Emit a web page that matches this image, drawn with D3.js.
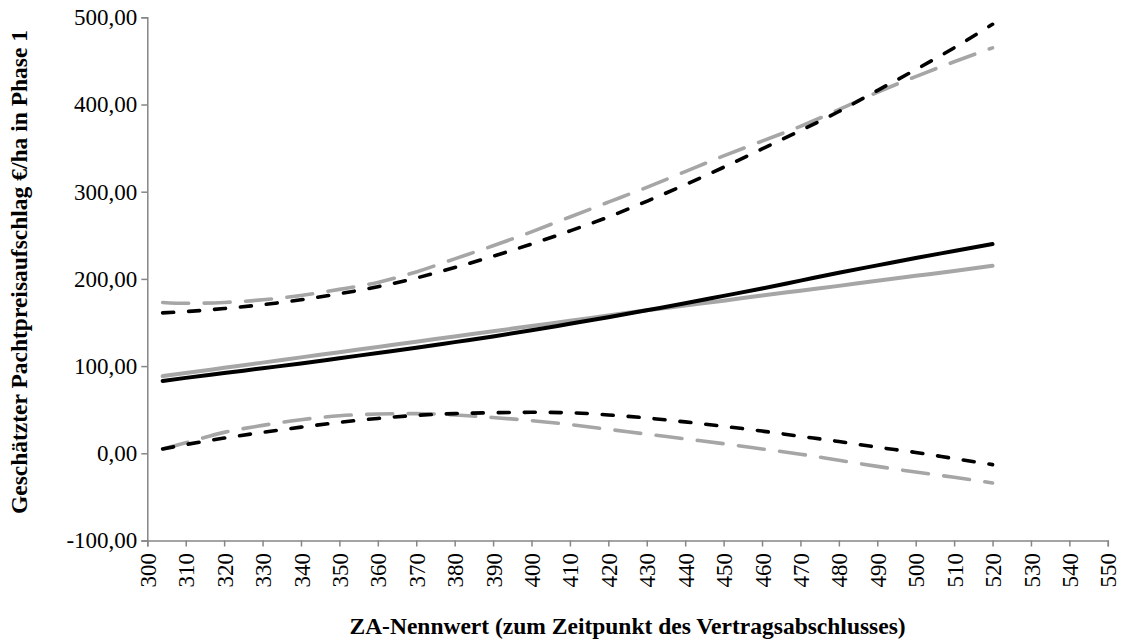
<!DOCTYPE html>
<html>
<head>
<meta charset="utf-8">
<script src="https://cdn.jsdelivr.net/npm/d3@7"></script>
<style>
  html, body { margin: 0; padding: 0; background: #fff; }
  svg { display: block; }
</style>
</head>
<body>
<svg id="chart" width="1126" height="643"></svg>
<script>
// ---- Data ----
const xValues = [304, 310, 320, 330, 340, 350, 360, 370, 380, 390, 400, 410, 420, 430, 440, 450, 460, 470, 480, 490, 500, 510, 520];

const estimateBlack = [83, 86.5, 92, 97.5, 103, 109, 115, 121, 127.5, 134, 141, 148.5, 156, 164, 172, 180.5, 189, 198, 207, 215.5, 224, 232, 240];
const estimateGray  = [88.5, 92, 98, 104, 110, 116, 122, 128, 134, 140, 146, 152, 158, 164, 169.5, 175, 181, 186.5, 192, 198, 203.5, 209, 215];

const upperBlack = [161, 162.5, 166, 170.5, 176, 183, 191, 201, 213, 226, 240, 255, 271, 289, 308, 328, 349, 370, 392, 416, 440, 465, 492];
const upperGray  = [173, 172, 173, 176, 181, 188, 196, 208, 223, 238, 254, 271, 288, 305, 323, 341, 358, 375, 394, 414, 432, 449, 465];

const lowerBlack = [5, 10, 17.5, 24, 30, 35.5, 40, 43.5, 45.5, 46.5, 47, 46.5, 44, 40.5, 36, 31, 25.5, 19.5, 13.5, 7, 1, -6, -13];
const lowerGray  = [5, 12, 24, 32, 38.5, 43, 45, 45.5, 44, 41, 37.5, 33, 27.5, 22, 16.5, 11, 5, -1, -8, -15, -21.5, -27.5, -34];

const xTicks = d3.range(300, 551, 10);
const yTicks = [-100, 0, 100, 200, 300, 400, 500];

const xTitle = "ZA-Nennwert (zum Zeitpunkt des Vertragsabschlusses)";
const yTitle = "Geschätzter Pachtpreisaufschlag €/ha in Phase 1";

// ---- Layout ----
const svg = d3.select("#chart");
const mLeft = 147.3, mRight = 1107.8, mTop = 17.3, mBottom = 540.5;

const x = d3.scaleLinear().domain([300, 550]).range([mLeft, mRight]);
const y = d3.scaleLinear().domain([-100, 500]).range([mBottom, mTop]);

const axisColor = "#868686";
const fontFamily = "'Liberation Serif', 'Times New Roman', serif";
const tickFont = "23px";
const titleFont = "23.5px";

// Y axis
const yAxis = svg.append("g")
  .attr("transform", `translate(${mLeft},0)`)
  .call(d3.axisLeft(y).tickValues(yTicks).tickSize(6).tickPadding(4)
    .tickFormat(d => d.toFixed(2).replace(".", ",")));
yAxis.select(".domain").attr("stroke", axisColor).attr("stroke-width", 1.5);
yAxis.selectAll(".tick line").attr("stroke", axisColor).attr("stroke-width", 1.5);
yAxis.selectAll(".tick text")
  .attr("fill", "#000").style("font-family", fontFamily).style("font-size", tickFont);

// X axis
const xAxis = svg.append("g")
  .attr("transform", `translate(0,${mBottom})`)
  .call(d3.axisBottom(x).tickValues(xTicks).tickSize(6).tickFormat(d => String(d)));
xAxis.select(".domain").attr("stroke", axisColor).attr("stroke-width", 1.5);
xAxis.selectAll(".tick line").attr("stroke", axisColor).attr("stroke-width", 1.5);
xAxis.selectAll(".tick text")
  .attr("fill", "#000").style("font-family", fontFamily).style("font-size", tickFont)
  .attr("transform", "rotate(-90)")
  .attr("text-anchor", "end")
  .attr("x", -12.5)
  .attr("y", 0)
  .attr("dy", "0.35em");

// ---- Lines ----
const line = d3.line().x(d => x(d[0])).y(d => y(d[1])).curve(d3.curveMonotoneX);
const zip = arr => xValues.map((xv, i) => [xv, arr[i]]);

const series = [
  { values: upperGray,     color: "#a6a6a6", width: 3.6, dash: "26,15.5" },
  { values: lowerGray,     color: "#a6a6a6", width: 3.6, dash: "26,15.5" },
  { values: estimateGray,  color: "#a6a6a6", width: 4,   dash: null },
  { values: upperBlack,    color: "#000000", width: 3.6, dash: "11,15" },
  { values: lowerBlack,    color: "#000000", width: 3.6, dash: "11,15" },
  { values: estimateBlack, color: "#000000", width: 4,   dash: null }
];

svg.append("g").selectAll("path")
  .data(series)
  .join("path")
  .attr("d", s => line(zip(s.values)))
  .attr("fill", "none")
  .attr("stroke", s => s.color)
  .attr("stroke-width", s => s.width)
  .attr("stroke-linecap", "round")
  .attr("stroke-dasharray", s => s.dash);

// ---- Titles ----
svg.append("text")
  .attr("x", (mLeft + mRight) / 2)
  .attr("y", 634)
  .attr("text-anchor", "middle")
  .style("font-family", fontFamily)
  .style("font-size", titleFont)
  .style("font-weight", "bold")
  .text(xTitle);

svg.append("text")
  .attr("transform", `translate(27,272) rotate(-90)`)
  .attr("text-anchor", "middle")
  .style("font-family", fontFamily)
  .style("font-size", titleFont)
  .style("font-weight", "bold")
  .text(yTitle);
</script>
</body>
</html>
